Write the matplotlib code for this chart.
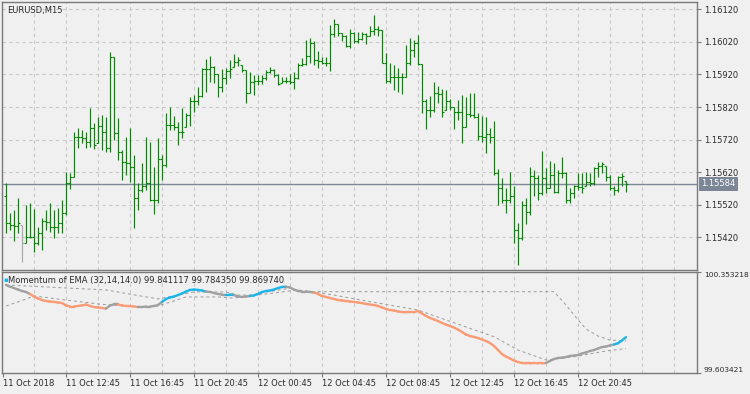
import matplotlib
matplotlib.use("Agg")
import matplotlib.pyplot as plt
import matplotlib.transforms as mtransforms
import numpy as np

# ---- data (EURUSD M15, 15-min bars) ----
first_open = 1.15547
highs = [1.15586, 1.15494, 1.15504, 1.15540, 1.15458, 1.15519, 1.15524, 1.15506, 1.15453, 1.15478,
         1.15504, 1.15524, 1.15504, 1.15509, 1.15535, 1.15622, 1.15616, 1.15744, 1.15755, 1.15750,
         1.15744, 1.15816, 1.15770, 1.15790, 1.15796, 1.15790, 1.15990, 1.15975, 1.15785, 1.15688,
         1.15729, 1.15755, 1.15673, 1.15586, 1.15649, 1.15729, 1.15714, 1.15637, 1.15724, 1.15673,
         1.15801, 1.15821, 1.15793, 1.15775, 1.15816, 1.15801, 1.15852, 1.15857, 1.15881, 1.15939,
         1.15967, 1.15977, 1.15946, 1.15922, 1.15936, 1.15939, 1.15965, 1.15983, 1.15975, 1.15949,
         1.15934, 1.15929, 1.15918, 1.15918, 1.15918, 1.15934, 1.15944, 1.15936, 1.15922, 1.15913,
         1.15913, 1.15922, 1.15926, 1.15956, 1.15970, 1.16026, 1.16031, 1.16024, 1.15993, 1.15975,
         1.15975, 1.16072, 1.16089, 1.16075, 1.16048, 1.16041, 1.16059, 1.16051, 1.16051, 1.16051,
         1.16048, 1.16069, 1.16103, 1.16069, 1.16057, 1.15985, 1.15956, 1.15949, 1.15939, 1.15924,
         1.16010, 1.16031, 1.16026, 1.16041, 1.15952, 1.15844, 1.15854, 1.15898, 1.15885, 1.15874,
         1.15872, 1.15844, 1.15821, 1.15842, 1.15857, 1.15852, 1.15862, 1.15862, 1.15801, 1.15793,
         1.15790, 1.15755, 1.15778, 1.15629, 1.15601, 1.15570, 1.15622, 1.15576, 1.15463, 1.15530,
         1.15540, 1.15637, 1.15627, 1.15611, 1.15686, 1.15632, 1.15655, 1.15647, 1.15627, 1.15668,
         1.15622, 1.15570, 1.15581, 1.15618, 1.15618, 1.15622, 1.15618, 1.15637, 1.15652, 1.15652,
         1.15639, 1.15611, 1.15576, 1.15608, 1.15618, 1.15594]
lows = [1.15432, 1.15442, 1.15410, 1.15434, 1.15345, 1.15402, 1.15417, 1.15376, 1.15396, 1.15381,
        1.15442, 1.15437, 1.15419, 1.15434, 1.15432, 1.15489, 1.15567, 1.15606, 1.15693, 1.15709,
        1.15693, 1.15698, 1.15690, 1.15709, 1.15688, 1.15683, 1.15683, 1.15719, 1.15657, 1.15596,
        1.15611, 1.15591, 1.15448, 1.15504, 1.15560, 1.15565, 1.15530, 1.15492, 1.15526, 1.15596,
        1.15637, 1.15750, 1.15748, 1.15703, 1.15724, 1.15760, 1.15762, 1.15806, 1.15826, 1.15852,
        1.15867, 1.15898, 1.15895, 1.15850, 1.15867, 1.15891, 1.15908, 1.15942, 1.15946, 1.15926,
        1.15831, 1.15862, 1.15857, 1.15888, 1.15891, 1.15903, 1.15924, 1.15913, 1.15888, 1.15893,
        1.15895, 1.15891, 1.15874, 1.15905, 1.15946, 1.15949, 1.15954, 1.15949, 1.15939, 1.15952,
        1.15946, 1.15932, 1.16036, 1.16038, 1.16024, 1.16003, 1.16000, 1.16016, 1.16018, 1.16026,
        1.16014, 1.16038, 1.16041, 1.16038, 1.15954, 1.15895, 1.15893, 1.15872, 1.15867, 1.15860,
        1.15913, 1.15949, 1.15975, 1.15949, 1.15801, 1.15752, 1.15788, 1.15806, 1.15831, 1.15788,
        1.15811, 1.15811, 1.15752, 1.15780, 1.15711, 1.15760, 1.15788, 1.15785, 1.15719, 1.15714,
        1.15680, 1.15711, 1.15611, 1.15519, 1.15524, 1.15496, 1.15524, 1.15404, 1.15335, 1.15412,
        1.15460, 1.15489, 1.15547, 1.15535, 1.15550, 1.15555, 1.15570, 1.15557, 1.15557, 1.15601,
        1.15524, 1.15526, 1.15540, 1.15565, 1.15557, 1.15576, 1.15578, 1.15581, 1.15606, 1.15616,
        1.15594, 1.15565, 1.15550, 1.15560, 1.15578, 1.15560]
closes = [1.15463, 1.15458, 1.15455, 1.15463, 1.15402, 1.15422, 1.15422, 1.15402, 1.15432, 1.15471,
          1.15468, 1.15453, 1.15451, 1.15463, 1.15496, 1.15586, 1.15606, 1.15727, 1.15727, 1.15724,
          1.15712, 1.15755, 1.15703, 1.15762, 1.15744, 1.15693, 1.15973, 1.15739, 1.15683, 1.15652,
          1.15649, 1.15637, 1.15540, 1.15565, 1.15576, 1.15586, 1.15535, 1.15533, 1.15660, 1.15642,
          1.15765, 1.15765, 1.15760, 1.15744, 1.15744, 1.15796, 1.15837, 1.15837, 1.15854, 1.15936,
          1.15936, 1.15944, 1.15922, 1.15881, 1.15908, 1.15932, 1.15936, 1.15959, 1.15965, 1.15934,
          1.15864, 1.15898, 1.15901, 1.15901, 1.15908, 1.15929, 1.15934, 1.15918, 1.15891, 1.15901,
          1.15901, 1.15898, 1.15908, 1.15949, 1.15952, 1.15977, 1.16018, 1.15965, 1.15962, 1.15956,
          1.15954, 1.16044, 1.16075, 1.16048, 1.16038, 1.16007, 1.16046, 1.16024, 1.16028, 1.16044,
          1.16038, 1.16054, 1.16059, 1.16057, 1.15956, 1.15901, 1.15911, 1.15911, 1.15911, 1.15911,
          1.15956, 1.15995, 1.16018, 1.15952, 1.15837, 1.15811, 1.15811, 1.15862, 1.15860, 1.15806,
          1.15837, 1.15819, 1.15806, 1.15806, 1.15760, 1.15799, 1.15796, 1.15790, 1.15731, 1.15729,
          1.15737, 1.15727, 1.15616, 1.15570, 1.15535, 1.15535, 1.15547, 1.15442, 1.15417, 1.15519,
          1.15499, 1.15608, 1.15601, 1.15555, 1.15601, 1.15570, 1.15611, 1.15560, 1.15618, 1.15618,
          1.15533, 1.15557, 1.15576, 1.15573, 1.15570, 1.15591, 1.15588, 1.15632, 1.15639, 1.15645,
          1.15604, 1.15570, 1.15565, 1.15606, 1.15608, 1.15584]
gray_bars = [4]

# momentum of EMA (indicator window), one value per bar
momentum = [100.257, 100.244, 100.234, 100.223, 100.212, 100.205, 100.190, 100.171, 100.157, 100.145,
            100.138, 100.134, 100.131, 100.127, 100.123, 100.105, 100.097, 100.097, 100.101, 100.105,
            100.112, 100.101, 100.093, 100.090, 100.086, 100.082, 100.105, 100.112, 100.112, 100.105,
            100.101, 100.101, 100.097, 100.093, 100.093, 100.097, 100.097, 100.101, 100.108, 100.131,
            100.153, 100.164, 100.171, 100.182, 100.194, 100.208, 100.220, 100.223, 100.220, 100.216,
            100.208, 100.205, 100.197, 100.190, 100.186, 100.186, 100.186, 100.182, 100.171, 100.168,
            100.171, 100.175, 100.179, 100.190, 100.205, 100.212, 100.216, 100.223, 100.234, 100.242,
            100.244, 100.238, 100.223, 100.212, 100.208, 100.208, 100.205, 100.201, 100.190, 100.175,
            100.168, 100.160, 100.153, 100.145, 100.142, 100.138, 100.134, 100.131, 100.127, 100.123,
            100.116, 100.112, 100.108, 100.101, 100.090, 100.079, 100.071, 100.067, 100.060, 100.056,
            100.054, 100.054, 100.054, 100.064, 100.045, 100.027, 100.012, 100.001, 99.989, 99.975,
            99.963, 99.952, 99.941, 99.926, 99.908, 99.889, 99.878, 99.871, 99.863, 99.852,
            99.841, 99.826, 99.804, 99.774, 99.744, 99.726, 99.711, 99.696, 99.685, 99.678,
            99.675, 99.675, 99.678, 99.675, 99.675, 99.678, 99.693, 99.707, 99.715, 99.717,
            99.722, 99.730, 99.733, 99.737, 99.748, 99.756, 99.767, 99.774, 99.785, 99.796,
            99.800, 99.808, 99.815, 99.824, 99.845, 99.86974]
# state runs: n = neutral, d = down, u = up
state_runs = [("n", 7), ("d", 19), ("n", 3), ("d", 5), ("n", 6), ("u", 11), ("n", 5), ("u", 2),
              ("n", 4), ("u", 9), ("n", 7), ("d", 58), ("n", 17), ("u", 3)]

# floating levels (dashed), vertices read at bar indices
level_up_idx = [0, 25, 38, 47, 55, 58, 61, 71, 74, 137, 140, 142, 145, 148, 151, 155]
level_up_val = [100.257, 100.220, 100.153, 100.205, 100.205, 100.182, 100.182, 100.234, 100.207,
                100.207, 100.108, 100.034, 99.930, 99.878, 99.848, 99.841117]
level_dn_idx = [0, 3, 7, 15, 24, 34, 38, 45, 53, 57, 73, 82, 92, 103, 110, 122, 128, 135, 142, 150, 155]
level_dn_val = [100.101, 100.131, 100.175, 100.145, 100.113, 100.093, 100.101, 100.168, 100.168,
                100.160, 100.220, 100.182, 100.128, 100.071, 99.997, 99.873, 99.774, 99.700,
                99.724, 99.767, 99.784350]

price_ticks = [1.15420, 1.15520, 1.15620, 1.15720, 1.15820, 1.15920, 1.16020, 1.16120]
price_lim = (1.153196, 1.161424)
ind_lim = (99.603421, 100.353218)
legend_vals = ["99.841117", "99.784350", "99.869740"]
time_labels = ["11 Oct 2018", "11 Oct 12:45", "11 Oct 16:45", "11 Oct 20:45", "12 Oct 00:45",
               "12 Oct 04:45", "12 Oct 08:45", "12 Oct 12:45", "12 Oct 16:45", "12 Oct 20:45"]
time_pos = [-0.75, 15, 31, 47, 63, 79, 95, 111, 127, 143]

# ---- style ----
bg = "#f0f0f0"
frame = "#7a7a7a"
gridc = "#c8c8c8"
bar_green = "#008a00"
state_col = {"n": "#a0a0a0", "d": "#f99b74", "u": "#1cb5ea"}
txt = "#2a2a2a"
fs = 6

n = len(closes)
x = np.arange(n)
opens = [first_open] + closes[:-1]
opens = np.clip(opens, lows, highs)
states = [s for s, k in state_runs for _ in range(k)]

fig = plt.figure(figsize=(7.5, 3.94), dpi=100, facecolor=bg)
ax = fig.add_axes([2 / 750, 1 - 270 / 394, 695 / 750, 268 / 394], facecolor=bg)
ax2 = fig.add_axes([2 / 750, 21 / 394, 695 / 750, 101 / 394], facecolor=bg)

xlim = (-1, 172.75)
grid_x = np.arange(7, 172, 8)
for a in (ax, ax2):
    a.set_xlim(*xlim)
    for s in a.spines.values():
        s.set_color(frame)
        s.set_linewidth(1)
    for g in grid_x:
        a.axvline(g, color=gridc, lw=0.8, ls=(0, (3, 3)), zorder=0)

# price panel
ax.set_ylim(*price_lim)
ax.set_yticks(price_ticks)
ax.set_yticklabels([f"{p:.5f}" for p in price_ticks])
ax.yaxis.tick_right()
ax.tick_params(axis="y", length=3, width=0.8, color=frame, labelsize=fs, labelcolor=txt, pad=2)
ax.set_xticks([])
ax.grid(axis="y", color=gridc, lw=0.8, ls=(0, (3, 3)), zorder=0)

cols = ["#a8a8a8" if i in gray_bars else bar_green for i in range(n)]
ax.vlines(x, lows, highs, colors=cols, lw=0.85, zorder=3)
ax.hlines(opens, x - 0.45, x, colors=cols, lw=0.8, zorder=3)
ax.hlines(closes, x, x + 0.45, colors=cols, lw=0.8, zorder=3)

last = closes[-1]
ax.axhline(last, color="#7d8896", lw=1, zorder=2)
trans = mtransforms.blended_transform_factory(ax.transAxes, ax.transData)
ax.text(1.006, last, f"{last:.5f}", transform=trans, ha="left", va="center", fontsize=fs,
        color="white", bbox=dict(facecolor="#7b8796", edgecolor="none", pad=1.6), clip_on=False)
ax.text(0.007, 0.985, "EURUSD,M15", transform=ax.transAxes, ha="left", va="top", fontsize=fs, color=txt)

# indicator panel
ax2.set_ylim(*ind_lim)
ax2.plot(level_up_idx, level_up_val, color="#9a9a9a", lw=0.7, ls=(0, (3, 3)), zorder=2)
ax2.plot(level_dn_idx, level_dn_val, color="#9a9a9a", lw=0.7, ls=(0, (3, 3)), zorder=2)
for i in range(1, n):
    ax2.plot(x[i - 1:i + 1], momentum[i - 1:i + 1], color=state_col[states[i]], lw=1.7,
             solid_capstyle="round", zorder=3)
ax2.set_yticks(list(ind_lim))
ax2.set_yticklabels([f"{ind_lim[0]:.6f}", f"{ind_lim[1]:.6f}"])
ax2.yaxis.tick_right()
ax2.tick_params(axis="y", length=3, width=0.8, color=frame, labelsize=5.4, labelcolor=txt, pad=2)
yl = ax2.get_yticklabels()
yl[0].set_va("bottom")
yl[1].set_va("top")
ax2.set_xticks(time_pos)
ax2.set_xticklabels(time_labels)
ax2.tick_params(axis="x", length=3, width=0.8, color=frame, labelsize=fs, labelcolor=txt, pad=1.5)
for lab in ax2.get_xticklabels():
    lab.set_ha("left")
ax2.text(0.002, 0.92, "\u25aa", transform=ax2.transAxes, ha="left", va="center", fontsize=5,
         color="#1cb5ea")
ax2.text(0.008, 0.92, "Momentum of EMA (32,14,14.0) " + " ".join(legend_vals),
         transform=ax2.transAxes, ha="left", va="center", fontsize=fs, color=txt)

fig.savefig("out.png", dpi=100, facecolor=bg)
